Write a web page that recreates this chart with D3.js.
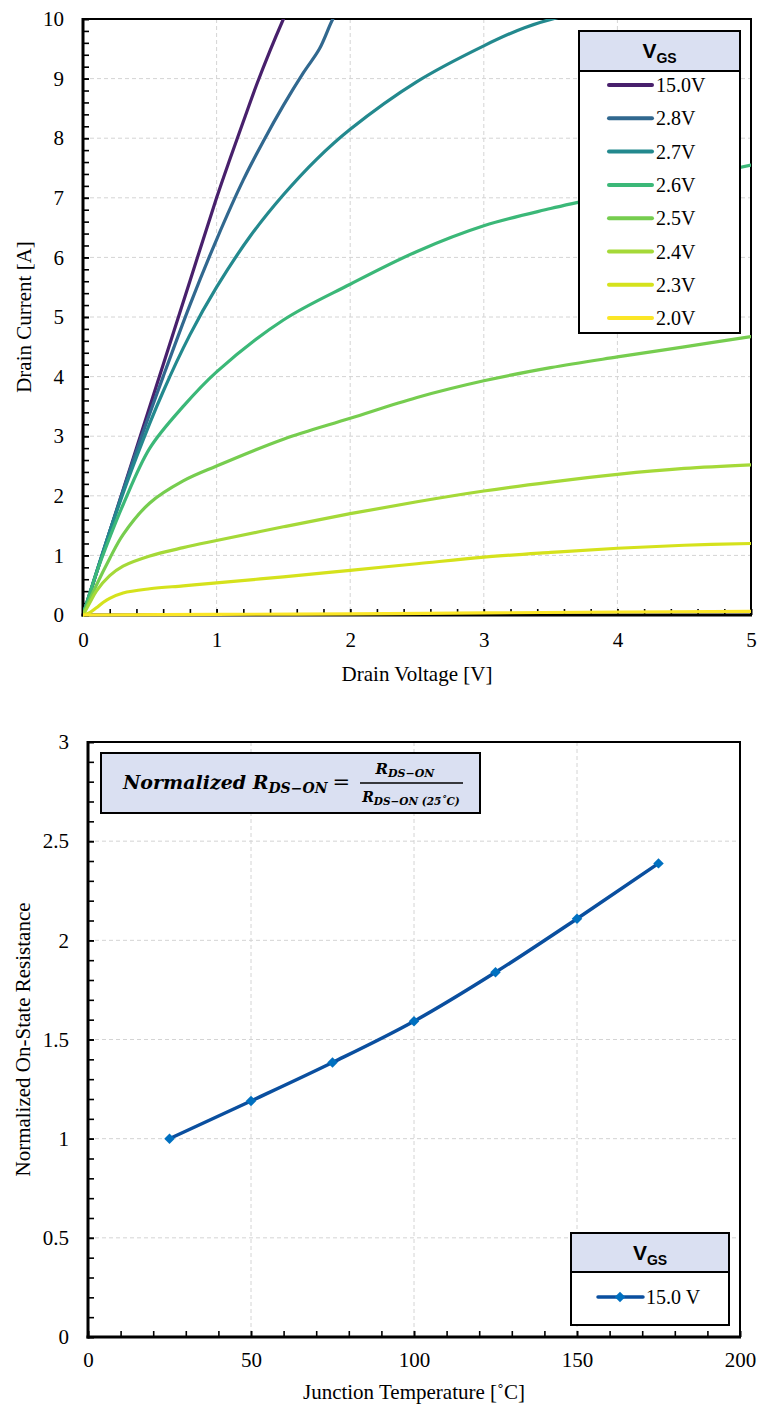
<!DOCTYPE html>
<html>
<head>
<meta charset="utf-8">
<script src="https://cdn.jsdelivr.net/npm/d3@7"></script>
<style>
  body { margin: 0; background: #fff; }
</style>
</head>
<body>
<div id="vis"></div>
<script>
// ---- data: output characteristics (Vds in V, Id in A) ----
const VGS_LABELS = ["15.0V", "2.8V", "2.7V", "2.6V", "2.5V", "2.4V", "2.3V", "2.0V"];

const VDS_150 = [0, 0.2, 0.4, 0.6, 0.8, 1.0, 1.1, 1.2, 1.3, 1.4, 1.5, 1.6];
const ID_150  = [0, 1.4, 2.8, 4.2, 5.6, 7.0, 7.65, 8.28, 8.9, 9.47, 10.0, 10.5];

const VDS_28 = [0, 0.2, 0.4, 0.6, 0.8, 1.0, 1.2, 1.35, 1.5, 1.65, 1.77, 1.87, 1.95];
const ID_28  = [0, 1.4, 2.75, 4.0, 5.2, 6.3, 7.3, 7.95, 8.55, 9.1, 9.5, 10.0, 10.3];

const VDS_27 = [0, 0.2, 0.4, 0.6, 0.8, 1.0, 1.25, 1.5, 1.75, 2.0, 2.5, 3.0, 3.3, 3.6, 4.0];
const ID_27  = [0, 1.4, 2.65, 3.75, 4.7, 5.5, 6.35, 7.05, 7.65, 8.15, 8.95, 9.55, 9.85, 10.05, 10.2];

const VDS_26 = [0, 0.1, 0.2, 0.3, 0.5, 0.75, 1.0, 1.5, 2.0, 2.5, 3.0, 3.5, 4.0, 4.5, 5.0];
const ID_26  = [0, 0.7, 1.3, 1.85, 2.8, 3.5, 4.08, 4.95, 5.55, 6.1, 6.53, 6.82, 7.07, 7.31, 7.55];

const VDS_25 = [0, 0.1, 0.2, 0.3, 0.5, 0.75, 1.0, 1.5, 2.0, 2.5, 3.0, 3.5, 4.0, 4.5, 5.0];
const ID_25  = [0, 0.5, 0.95, 1.35, 1.88, 2.25, 2.5, 2.95, 3.3, 3.65, 3.93, 4.15, 4.33, 4.5, 4.67];

const VDS_24 = [0, 0.05, 0.1, 0.2, 0.3, 0.5, 0.75, 1.0, 1.5, 2.0, 2.5, 3.0, 3.5, 4.0, 4.5, 5.0];
const ID_24  = [0, 0.2, 0.4, 0.66, 0.82, 0.99, 1.13, 1.25, 1.48, 1.7, 1.9, 2.08, 2.23, 2.36, 2.46, 2.52];

const VDS_23 = [0, 0.05, 0.1, 0.15, 0.2, 0.3, 0.5, 0.75, 1.0, 1.5, 2.0, 2.5, 3.0, 3.5, 4.0, 4.5, 5.0];
const ID_23  = [0, 0.04, 0.12, 0.21, 0.28, 0.37, 0.44, 0.49, 0.54, 0.64, 0.75, 0.86, 0.97, 1.05, 1.12, 1.17, 1.2];

const VDS_20 = [0, 1, 2, 3, 4, 5];
const ID_20  = [0, 0.01, 0.02, 0.035, 0.05, 0.06];

// ---- data: normalized on-resistance vs junction temperature ----
const TEMP_C   = [25, 50, 75, 100, 125, 150, 175];
const RDS_NORM = [1.0, 1.19, 1.384, 1.592, 1.839, 2.109, 2.388];
const RDS_LABEL = "15.0 V";

// ticks
const X1_TICKS = [0, 1, 2, 3, 4, 5];
const Y1_TICKS = [0, 1, 2, 3, 4, 5, 6, 7, 8, 9, 10];
const X2_TICKS = [0, 50, 100, 150, 200];
const Y2_TICKS = [0, 0.5, 1, 1.5, 2, 2.5, 3];

// ---- layout ----
const WIDTH = 757, HEIGHT = 1409;
const P1 = {left: 83, right: 751, top: 19, bottom: 615};
const P2 = {left: 88, right: 740, top: 742, bottom: 1337};
const COLORS = ["#48206c", "#31688f", "#23898e", "#3bb878", "#76cd4f", "#a5d938", "#d5e21c", "#fbe626"];
const HEADER_FILL = "#dae0f2";
const SERIF = '"Liberation Serif", "Times New Roman", "DejaVu Serif", serif';
const SANS = '"Liberation Sans", Arial, sans-serif';
const MATH = '"DejaVu Serif", serif';

const svg = d3.select("#vis").append("svg")
    .attr("width", WIDTH)
    .attr("height", HEIGHT);

function drawFrame(g, x, y, P, xMajor, xMinor, yMajor, yMinor, xPad, yPad) {
  // gridlines
  g.append("g").selectAll("line")
    .data(xMajor.filter(d => x(d) > P.left + 1 && x(d) < P.right - 1))
    .join("line")
      .attr("x1", d => x(d)).attr("x2", d => x(d))
      .attr("y1", P.top).attr("y2", P.bottom)
      .attr("stroke", "#d4d4d4").attr("stroke-dasharray", "4,3");
  g.append("g").selectAll("line")
    .data(yMajor.filter(d => y(d) > P.top + 1 && y(d) < P.bottom - 1))
    .join("line")
      .attr("x1", P.left).attr("x2", P.right)
      .attr("y1", d => y(d)).attr("y2", d => y(d))
      .attr("stroke", "#d4d4d4").attr("stroke-dasharray", "4,3");

  // ticks (inward)
  g.append("g").attr("transform", `translate(${P.left},0)`)
    .call(d3.axisLeft(y).tickValues(yMajor).tickSize(-6).tickPadding(yPad).tickFormat(d => d));
  g.append("g").attr("transform", `translate(${P.left},0)`)
    .call(d3.axisLeft(y).tickValues(yMinor).tickSize(-6).tickFormat(""));
  g.append("g").attr("transform", `translate(0,${P.bottom})`)
    .call(d3.axisBottom(x).tickValues(xMajor).tickSize(-6).tickPadding(xPad).tickFormat(d => d));
  g.append("g").attr("transform", `translate(0,${P.bottom})`)
    .call(d3.axisBottom(x).tickValues(xMinor).tickSize(-6).tickFormat(""));
  g.selectAll(".domain").remove();
  g.selectAll(".tick line").attr("stroke", "#000").attr("stroke-width", 1.6);
  g.selectAll(".tick text")
    .style("font-family", SERIF).style("font-size", "21px").attr("fill", "#000");

  // border + heavy axes
  g.append("rect")
    .attr("x", P.left).attr("y", P.top)
    .attr("width", P.right - P.left).attr("height", P.bottom - P.top)
    .attr("fill", "none").attr("stroke", "#000").attr("stroke-width", 2);
  g.append("line").attr("x1", P.left).attr("x2", P.left).attr("y1", P.top - 1).attr("y2", P.bottom + 1.5)
    .attr("stroke", "#000").attr("stroke-width", 3);
  g.append("line").attr("x1", P.left - 1.5).attr("x2", P.right + 1).attr("y1", P.bottom).attr("y2", P.bottom)
    .attr("stroke", "#000").attr("stroke-width", 3);
}

function label(g, x, y, txt, size) {
  return g.append("text").attr("x", x).attr("y", y)
    .style("font-family", SERIF).style("font-size", size + "px")
    .attr("fill", "#000").text(txt);
}

function vgsHeader(g, cx, y) {
  const t = g.append("text")
    .attr("x", cx).attr("y", y)
    .attr("text-anchor", "middle")
    .style("font-family", SANS)
    .style("font-weight", "bold")
    .style("font-size", "21px");
  t.append("tspan").text("V");
  t.append("tspan").style("font-size", "14px").attr("dy", 5).text("GS");
}

// ================= chart 1: output characteristics =================
const g1 = svg.append("g");
const x1 = d3.scaleLinear().domain([0, 5]).range([P1.left, P1.right]);
const y1 = d3.scaleLinear().domain([0, 10]).range([P1.bottom, P1.top]);

drawFrame(g1, x1, y1, P1, X1_TICKS, d3.range(0, 5.001, 0.2), Y1_TICKS, d3.range(0, 10.001, 0.2), 17, 19);

const series1 = [
  [VDS_150, ID_150], [VDS_28, ID_28], [VDS_27, ID_27], [VDS_26, ID_26],
  [VDS_25, ID_25], [VDS_24, ID_24], [VDS_23, ID_23], [VDS_20, ID_20]
].map(([vx, iy], i) => ({label: VGS_LABELS[i], color: COLORS[i], pts: vx.map((v, j) => [v, iy[j]])}));

svg.append("clipPath").attr("id", "clip1")
  .append("rect").attr("x", P1.left).attr("y", P1.top)
  .attr("width", P1.right - P1.left).attr("height", P1.bottom - P1.top + 4);

const line1 = d3.line()
  .x(d => x1(d[0]))
  .y(d => y1(d[1]))
  .curve(d3.curveCatmullRom.alpha(0.5));

g1.append("g").attr("clip-path", "url(#clip1)")
  .selectAll("path")
  .data(series1)
  .join("path")
    .attr("d", d => line1(d.pts))
    .attr("fill", "none")
    .attr("stroke", d => d.color)
    .attr("stroke-width", 3.2)
    .attr("stroke-linecap", "round");

// axis titles
label(g1, (P1.left + P1.right) / 2, 681, "Drain Voltage [V]", 21).attr("text-anchor", "middle");
label(g1, 0, 0, "Drain Current [A]", 21)
  .attr("text-anchor", "middle")
  .attr("transform", `translate(31,${(P1.top + P1.bottom) / 2}) rotate(-90)`);

// legend
const L1 = {x: 579, y: 31, w: 161, head: 40, row: 33.3};
const leg1 = g1.append("g");
leg1.append("rect").attr("x", L1.x).attr("y", L1.y).attr("width", L1.w).attr("height", 302)
  .attr("fill", "#fff").attr("stroke", "#000").attr("stroke-width", 2);
leg1.append("rect").attr("x", L1.x).attr("y", L1.y).attr("width", L1.w).attr("height", L1.head)
  .attr("fill", HEADER_FILL).attr("stroke", "#000").attr("stroke-width", 2);
vgsHeader(leg1, L1.x + L1.w / 2, L1.y + 27);
const rows1 = leg1.selectAll("g.row").data(series1).join("g")
  .attr("class", "row")
  .attr("transform", (d, i) => `translate(0,${L1.y + L1.head + 14 + i * L1.row})`);
rows1.append("line")
  .attr("x1", 609).attr("x2", 652).attr("y1", 0).attr("y2", 0)
  .attr("stroke", d => d.color).attr("stroke-width", 4).attr("stroke-linecap", "round");
rows1.append("text")
  .attr("x", 656).attr("y", 7)
  .style("font-family", SERIF).style("font-size", "20px")
  .text(d => d.label);

// ================= chart 2: normalized on-resistance =================
const g2 = svg.append("g");
const x2 = d3.scaleLinear().domain([0, 200]).range([P2.left, P2.right]);
const y2 = d3.scaleLinear().domain([0, 3]).range([P2.bottom, P2.top]);

drawFrame(g2, x2, y2, P2, X2_TICKS, d3.range(0, 200.1, 10), Y2_TICKS, d3.range(0, 3.001, 0.1), 15, 19);

const rdsData = TEMP_C.map((t, i) => [t, RDS_NORM[i]]);
const line2 = d3.line()
  .x(d => x2(d[0]))
  .y(d => y2(d[1]))
  .curve(d3.curveMonotoneX);

g2.append("path")
  .datum(rdsData)
  .attr("d", line2)
  .attr("fill", "none")
  .attr("stroke", "#0a4f9f")
  .attr("stroke-width", 3.5);

const diamond = d3.symbol().type(d3.symbolDiamond2).size(70);
g2.selectAll("path.pt")
  .data(rdsData)
  .join("path")
    .attr("class", "pt")
    .attr("transform", d => `translate(${x2(d[0])},${y2(d[1])})`)
    .attr("d", diamond)
    .attr("fill", "#0070c0");

label(g2, (P2.left + P2.right) / 2, 1399, "Junction Temperature [˚C]", 21).attr("text-anchor", "middle");
label(g2, 0, 0, "Normalized On-State Resistance", 21)
  .attr("text-anchor", "middle")
  .attr("transform", `translate(30,${(P2.top + P2.bottom) / 2}) rotate(-90)`);

// formula box
const fm = g2.append("g");
fm.append("rect").attr("x", 101).attr("y", 753).attr("width", 379).attr("height", 60)
  .attr("fill", HEADER_FILL).attr("stroke", "#000").attr("stroke-width", 2);
function mathText(x, y, size) {
  return fm.append("text").attr("x", x).attr("y", y)
    .style("font-family", MATH).style("font-style", "italic").style("font-weight", "bold")
    .style("font-size", size + "px").attr("fill", "#000");
}
const lhs = mathText(123, 789, 19);
lhs.append("tspan").text("Normalized R");
lhs.append("tspan").style("font-size", "14px").attr("dy", 4).text("DS−ON");
lhs.append("tspan").style("font-size", "21px").style("font-style", "normal").style("font-weight", "normal")
  .attr("dx", 5).attr("dy", -4).text("=");
fm.append("line").attr("x1", 360).attr("x2", 463).attr("y1", 783).attr("y2", 783)
  .attr("stroke", "#000").attr("stroke-width", 1.5);
const num = mathText(405, 774, 15).attr("text-anchor", "middle");
num.append("tspan").text("R");
num.append("tspan").style("font-size", "11px").attr("dy", 3).text("DS−ON");
const den = mathText(411, 802, 14).attr("text-anchor", "middle");
den.append("tspan").text("R");
den.append("tspan").style("font-size", "10.5px").attr("dy", 3).text("DS−ON (25˚C)");

// legend
const L2 = {x: 571, y: 1233, w: 158, head: 39};
const leg2 = g2.append("g");
leg2.append("rect").attr("x", L2.x).attr("y", L2.y).attr("width", L2.w).attr("height", 92)
  .attr("fill", "#fff").attr("stroke", "#000").attr("stroke-width", 2);
leg2.append("rect").attr("x", L2.x).attr("y", L2.y).attr("width", L2.w).attr("height", L2.head)
  .attr("fill", HEADER_FILL).attr("stroke", "#000").attr("stroke-width", 2);
vgsHeader(leg2, L2.x + L2.w / 2, L2.y + 27);
leg2.append("line").attr("x1", 598).attr("x2", 643).attr("y1", 1297).attr("y2", 1297)
  .attr("stroke", "#0a4f9f").attr("stroke-width", 3.5).attr("stroke-linecap", "round");
leg2.append("path").attr("transform", "translate(620,1297)").attr("d", diamond).attr("fill", "#0070c0");
label(leg2, 646, 1304, RDS_LABEL, 20);
</script>
</body>
</html>
